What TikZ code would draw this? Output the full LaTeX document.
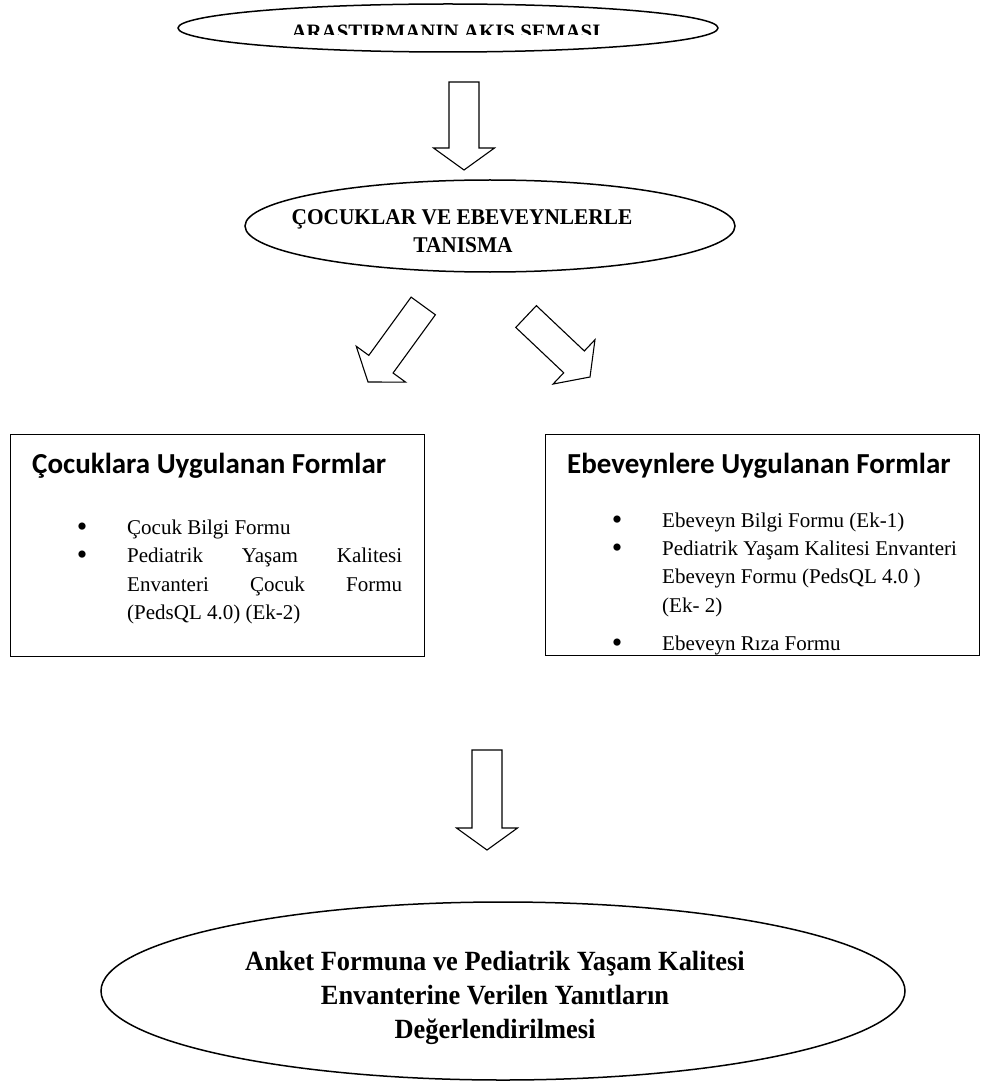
\documentclass[tikz,border=0pt]{standalone}
\usepackage{fontspec}
\setmainfont{Liberation Serif}
\newfontfamily\calibri{Carlito}
\newfontfamily\narrowserif[FakeStretch=0.95]{Liberation Serif}
\usetikzlibrary{shapes.geometric}

\begin{document}
\begin{tikzpicture}[x=1pt,y=-1pt]
\tikzset{oval/.style = {shape=ellipse,draw,line width=1.5pt,inner sep=0pt}}
\tikzset{formbox/.style = {draw,line width=1.2pt,anchor=north west,inner sep=0pt}}
\tikzset{heading/.style = {anchor=base,inner sep=0pt,font=\narrowserif\bfseries\fontsize{22.5}{27}\selectfont}}
\tikzset{result/.style = {anchor=base,inner sep=0pt,font=\narrowserif\bfseries\fontsize{27.8}{34}\selectfont}}
\tikzset{caption/.style = {anchor=base west,inner sep=0pt,font=\calibri\bfseries\fontsize{29}{34}\selectfont}}
\tikzset{item/.style = {anchor=base west,inner sep=0pt,font=\fontsize{21}{28.5}\selectfont}}
\tikzset{dot/.style = {anchor=base,inner sep=0pt,font=\fontsize{30}{30}\selectfont}}
\tikzset{pics/blockarrow/.style = {code = {
  \draw[line width=1.1pt,fill=white] (0,0) -- (-30.5,-22) -- (-15,-22) -- (-15,-#1)
    -- (15,-#1) -- (15,-22) -- (30.5,-22) -- cycle;}}}
\useasboundingbox (0,0) rectangle (981,1083);
% ovals
\node[oval,minimum width=540pt,minimum height=48pt] (flow) at (448,28) {};
\node[oval,minimum width=490pt,minimum height=92pt] (meet) at (490,226) {};
\node[oval,minimum width=804pt,minimum height=178pt] (eval) at (503,991) {};
\begin{scope}
\clip (150,0) rectangle (750,35);
\node[heading,font=\narrowserif\bfseries\fontsize{22}{27}\selectfont] (flowtext) at (446,40) {ARASTIRMANIN AKIS SEMASI};
\end{scope}
\node[heading] (meet1) at (462,225) {ÇOCUKLAR VE EBEVEYNLERLE};
\node[heading] (meet2) at (463,252) {TANISMA};
\node[result] (eval1) at (495,970) {Anket Formuna ve Pediatrik Yaşam Kalitesi};
\node[result] (eval2) at (495,1004) {Envanterine Verilen Yanıtların};
\node[result] (eval3) at (495,1038) {Değerlendirilmesi};
% block arrows
\pic at (464,170) {blockarrow=88};
\pic[rotate=-36] at (368,382) {blockarrow=94};
\pic[rotate=46.6] at (590,377) {blockarrow=88};
\pic at (487,850) {blockarrow=100};
% form boxes
\node[formbox,minimum width=414pt,minimum height=222pt] (kids) at (10,434) {};
\node[formbox,minimum width=434pt,minimum height=221pt] (parents) at (545,434) {};
\node[caption] (kidstitle) at (32,473) {Çocuklara Uygulanan Formlar};
\node[caption] (parentstitle) at (567,473) {Ebeveynlere Uygulanan Formlar};
% child forms
\node[dot] (k1) at (82,536) {•};
\node[item] (kform1) at (127,534) {Çocuk Bilgi Formu};
\node[dot] (k2) at (82,564.5) {•};
\node[item] (kform2a) at (127,562.5) {\makebox[275pt][s]{Pediatrik Yaşam Kalitesi}};
\node[item] (kform2b) at (127,591) {\makebox[275pt][s]{Envanteri Çocuk Formu}};
\node[item] (kform2c) at (127,619.5) {(PedsQL 4.0) (Ek-2)};
% parent forms
\node[dot] (p1) at (617,529) {•};
\node[item] (pform1) at (662,527) {Ebeveyn Bilgi Formu (Ek-1)};
\node[dot] (p2) at (617,557) {•};
\node[item] (pform2a) at (662,555) {Pediatrik Yaşam Kalitesi Envanteri};
\node[item] (pform2b) at (662,583.5) {Ebeveyn Formu (PedsQL 4.0 )};
\node[item] (pform2c) at (662,612) {(Ek- 2)};
\node[dot] (p3) at (617,652) {•};
\node[item] (pform3) at (662,650) {Ebeveyn Rıza Formu};
\end{tikzpicture}
\end{document}
